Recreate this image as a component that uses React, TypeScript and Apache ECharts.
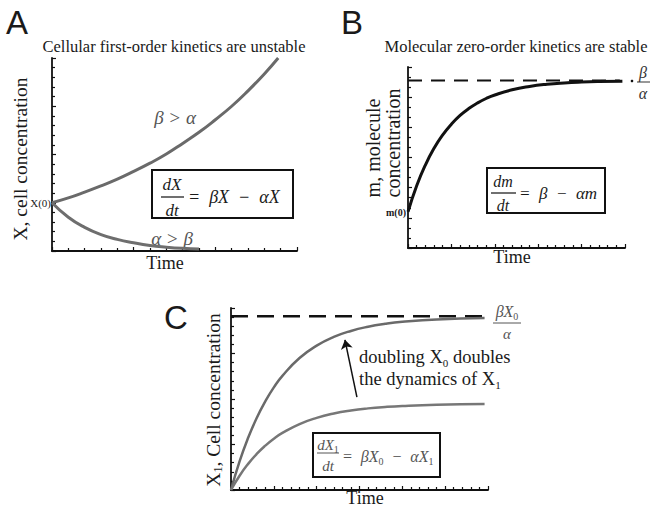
import React, { useEffect, useRef } from "react";
import * as echarts from "echarts";

// Panel A: cellular first-order kinetics
const timeAGrowth = [0, 1, 2, 3, 4, 5, 6, 7, 8, 9, 10, 11, 12, 13, 13.85];
const cellsAGrowth = [1.0, 1.1, 1.22, 1.35, 1.49, 1.65, 1.82, 2.01, 2.23, 2.46, 2.72, 3.0, 3.32, 3.67, 4.0];
const timeADecay = [0, 1, 2, 3, 4, 5, 6, 7, 8, 9];
const cellsADecay = [1.0, 0.7, 0.49, 0.34, 0.24, 0.17, 0.115, 0.08, 0.055, 0.04];

// Panel B: molecular zero-order kinetics
const timeB = [0, 1, 2, 3, 4, 5, 6, 7, 8, 9, 10, 12, 14, 16, 18, 20, 22, 24.7];
const moleculeB = [0.216, 0.371, 0.495, 0.595, 0.675, 0.739, 0.791, 0.832, 0.865, 0.892, 0.913, 0.944, 0.964, 0.977, 0.985, 0.99, 0.993, 0.995];
const asymptoteBTime = [0, 24.4];
const asymptoteB = [1.0, 1.0];

// Panel C: cell concentration X1 for two X0 levels
const timeC = [0, 1, 2, 3, 4, 5, 6, 8, 10, 12, 14, 16, 18, 20, 24, 29.6];
const cellsCDoubled = [0, 3.14, 5.74, 7.92, 9.74, 11.28, 12.54, 14.5, 15.86, 16.82, 17.48, 17.94, 18.26, 18.48, 18.74, 18.9];
const cellsCBase = [0, 1.57, 2.87, 3.96, 4.87, 5.64, 6.27, 7.25, 7.93, 8.41, 8.74, 8.97, 9.13, 9.24, 9.37, 9.45];
const asymptoteCTime = [0, 29.6];
const asymptoteC = [19.1, 19.1];
const arrowCStart = [14.7, 10.2];
const arrowCEnd = [13.3, 16.5];

const zip = (xs: number[], ys: number[]) => xs.map((x, i) => [x, ys[i]]);

const SERIF = '"Liberation Serif", "DejaVu Serif", serif';
const SANS = '"Liberation Sans", Arial, sans-serif';

function axis(gridIndex: number, max: number, interval: number, minorSplit: number) {
  return {
    type: "value",
    gridIndex,
    min: 0,
    max,
    interval,
    axisLine: { show: true, onZero: false, lineStyle: { color: "#111", width: 1.8 } },
    axisTick: { show: true, inside: true, length: 4, lineStyle: { color: "#111", width: 1.2 } },
    minorTick: { show: true, splitNumber: minorSplit, length: 3, lineStyle: { color: "#111", width: 1.2 } },
    axisLabel: { show: false },
    splitLine: { show: false },
  };
}

function txt(x: number, y: number, text: string, font: string, extra: any = {}) {
  const { rotation, fill, align, verticalAlign, rich } = extra;
  return {
    type: "text",
    x,
    y,
    rotation: rotation || 0,
    silent: true,
    style: {
      text,
      font,
      fill: fill || "#1a1a1a",
      align: align || "left",
      verticalAlign: verticalAlign || "middle",
      rich,
    },
  };
}

function hline(x1: number, x2: number, y: number, w = 1.2, color = "#111") {
  return {
    type: "line",
    silent: true,
    shape: { x1, y1: y, x2, y2: y },
    style: { stroke: color, lineWidth: w },
  };
}

function box(x: number, y: number, w: number, h: number) {
  return {
    type: "rect",
    silent: true,
    shape: { x, y, width: w, height: h },
    style: { fill: "#fff", stroke: "#111", lineWidth: 2 },
  };
}

const mathFont = (size: number) => `italic ${size}px ${SERIF}`;
const sub = (size: number, lh: number) => ({
  s: { fontSize: size, fontStyle: "normal", fontFamily: SERIF, verticalAlign: "bottom", lineHeight: lh },
});

export default function App() {
  const ref = useRef<HTMLDivElement>(null);
  useEffect(() => {
    document.body.style.margin = "0";
    const chart = echarts.init(ref.current!, null, { renderer: "svg" });
    const grayLine = (color: string, width: number) => ({ color, width });
    const option: any = {
      animation: false,
      backgroundColor: "#fff",
      grid: [
        { left: 52, top: 58, width: 245, height: 193 },
        { left: 408, top: 67, width: 217, height: 181 },
        { left: 231, top: 308, width: 257, height: 182 },
      ],
      xAxis: [axis(0, 15, 5, 5), axis(1, 25, 5, 5), axis(2, 30, 5, 5)],
      yAxis: [axis(0, 4, 1, 5), axis(1, 1.08, 0.18, 3), axis(2, 20, 5, 5)],
      series: [
        {
          type: "line", xAxisIndex: 0, yAxisIndex: 0, data: zip(timeAGrowth, cellsAGrowth),
          smooth: true, showSymbol: false, lineStyle: grayLine("#6a6a6a", 3), silent: true,
        },
        {
          type: "line", xAxisIndex: 0, yAxisIndex: 0, data: zip(timeADecay, cellsADecay),
          smooth: true, showSymbol: false, lineStyle: grayLine("#6e6e6e", 3), silent: true,
        },
        {
          type: "line", xAxisIndex: 1, yAxisIndex: 1, data: zip(asymptoteBTime, asymptoteB),
          showSymbol: false, lineStyle: { color: "#111", width: 2, type: [14, 9] }, silent: true,
        },
        {
          type: "line", xAxisIndex: 1, yAxisIndex: 1, data: zip(timeB, moleculeB),
          smooth: true, showSymbol: false, lineStyle: grayLine("#111", 3), silent: true,
        },
        {
          type: "line", xAxisIndex: 2, yAxisIndex: 2, data: zip(asymptoteCTime, asymptoteC),
          showSymbol: false, lineStyle: { color: "#111", width: 2.5, type: [17, 9] }, silent: true,
        },
        {
          type: "line", xAxisIndex: 2, yAxisIndex: 2, data: zip(timeC, cellsCDoubled),
          smooth: true, showSymbol: false, lineStyle: grayLine("#6a6a6a", 2.5), silent: true,
          markLine: {
            silent: true,
            symbol: ["none", "arrow"],
            symbolSize: 9,
            label: { show: false },
            lineStyle: { color: "#111", width: 1.5, type: "solid" },
            data: [[{ coord: arrowCStart }, { coord: arrowCEnd }]],
          },
        },
        {
          type: "line", xAxisIndex: 2, yAxisIndex: 2, data: zip(timeC, cellsCBase),
          smooth: true, showSymbol: false, lineStyle: grayLine("#777", 2.5), silent: true,
        },
      ],
      graphic: [
        // panel letters
        txt(6, 22, "A", `33px ${SANS}`),
        txt(341, 22, "B", `33px ${SANS}`),
        txt(164, 317, "C", `33px ${SANS}`),
        // titles
        txt(174, 46, "Cellular first-order kinetics are unstable", `16.5px ${SERIF}`, { align: "center" }),
        txt(516, 46, "Molecular zero-order kinetics are stable", `16.5px ${SERIF}`, { align: "center" }),
        // y axis titles
        txt(20, 159, "X, cell concentration", `19.5px ${SERIF}`, { rotation: Math.PI / 2, align: "center" }),
        txt(373, 148, "m, molecule", `20px ${SERIF}`, { rotation: Math.PI / 2, align: "center" }),
        txt(393, 143, "concentration", `20px ${SERIF}`, { rotation: Math.PI / 2, align: "center" }),
        txt(213, 400, "X{s|1}, Cell concentration", `19.5px ${SERIF}`, {
          rotation: Math.PI / 2, align: "center", rich: sub(12, 22),
        }),
        // x axis titles
        txt(165, 263, "Time", `18px ${SERIF}`, { align: "center" }),
        txt(512, 257, "Time", `18px ${SERIF}`, { align: "center" }),
        txt(365, 498, "Time", `18px ${SERIF}`, { align: "center" }),
        // initial value labels
        txt(51, 203, "X(0)", `11px ${SERIF}`, { align: "right" }),
        txt(406, 212, "m(0)", `bold 10px ${SERIF}`, { align: "right" }),
        // regime labels
        txt(175, 117, "β > α", mathFont(19), { align: "center", fill: "#555" }),
        txt(172, 238, "α > β", mathFont(19), { align: "center", fill: "#555" }),
        // equation A
        box(152, 170, 141, 48),
        txt(172, 184, "dX", mathFont(17), { align: "center" }),
        hline(161, 184, 197),
        txt(172, 210, "dt", mathFont(17), { align: "center" }),
        txt(188, 197, "=  βX  −  αX", mathFont(18), { align: "left" }),
        // equation B
        box(487, 168, 118, 45),
        txt(503, 181, "dm", mathFont(16), { align: "center" }),
        hline(491, 516, 193),
        txt(503, 205, "dt", mathFont(16), { align: "center" }),
        txt(519, 193, "=  β  −  αm", mathFont(17), { align: "left" }),
        // asymptote label B
        { type: "circle", silent: true, shape: { cx: 632, cy: 81, r: 1.3 }, style: { fill: "#111" } },
        txt(643, 72, "β", mathFont(16), { align: "center", fill: "#333" }),
        hline(637, 650, 82, 1, "#333"),
        txt(643, 93, "α", mathFont(16), { align: "center", fill: "#333" }),
        // equation C
        box(313, 433, 127, 44),
        txt(328, 445, "dX{s|1}", mathFont(15), { align: "center", fill: "#555", rich: sub(10, 19) }),
        hline(317, 339, 453, 1, "#555"),
        txt(328, 466, "dt", mathFont(15), { align: "center", fill: "#555" }),
        txt(342, 456, "=  βX{s|0}  −  αX{s|1}", mathFont(16), { align: "left", fill: "#555", rich: sub(10, 20) }),
        // asymptote label C
        txt(507, 311, "βX{s|0}", mathFont(16), { align: "center", fill: "#555", rich: sub(10, 20) }),
        hline(493, 521, 323, 1, "#555"),
        txt(507, 334, "α", mathFont(15), { align: "center", fill: "#555" }),
        // arrow annotation
        txt(359, 357, "doubling X{s|0} doubles", `18.5px ${SERIF}`, { rich: sub(11, 22) }),
        txt(359, 379, "the dynamics of X{s|1}", `18.5px ${SERIF}`, { rich: sub(11, 22) }),
      ],
    };
    chart.setOption(option);
    return () => chart.dispose();
  }, []);
  return <div ref={ref} style={{ width: 652, height: 508 }} />;
}
